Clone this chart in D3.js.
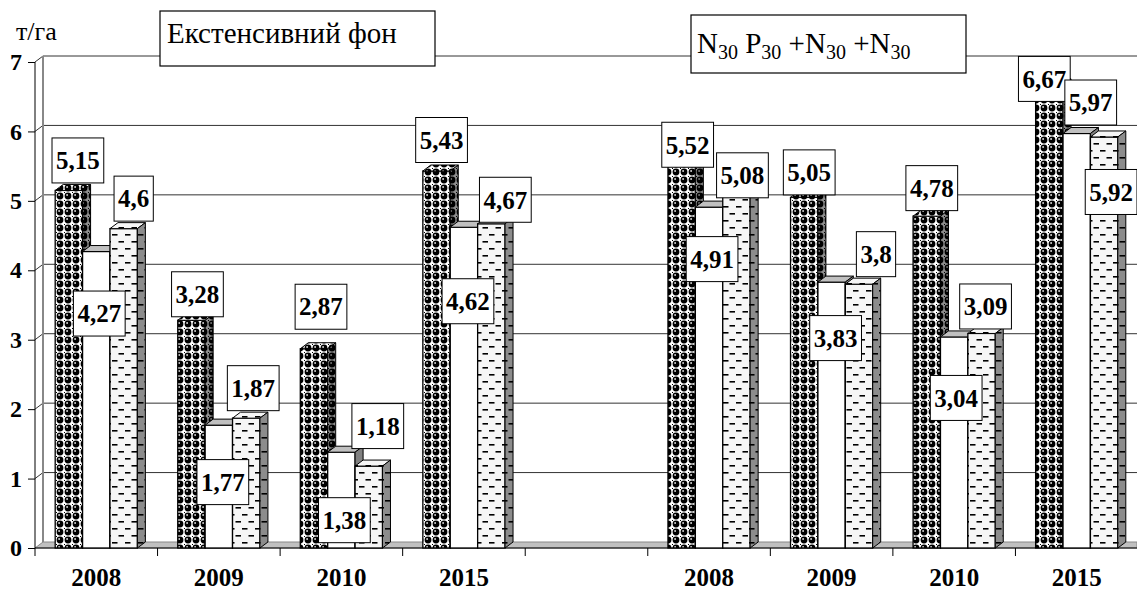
<!DOCTYPE html>
<html>
<head>
<meta charset="utf-8">
<script src="https://cdn.jsdelivr.net/npm/d3@7"></script>
<style>
  body { margin: 0; background: #fff; }
  svg, svg text { font-family: "Liberation Serif", Tinos, "Times New Roman", Times, "DejaVu Serif", serif; }
</style>
</head>
<body>
<svg id="chart"></svg>
<script>
  /* data --------------------------------------------------------------- */
  // the empty slot splits the two fertiliser backgrounds
  const categories = ["2008", "2009", "2010", "2015", "", "2008", "2009", "2010", "2015"];
  const series1 = [5.15, 3.28, 2.87, 5.43, null, 5.52, 5.05, 4.78, 6.67];
  const series2 = [4.27, 1.77, 1.38, 4.62, null, 4.91, 3.83, 3.04, 5.97];
  const series3 = [4.6, 1.87, 1.18, 4.67, null, 5.08, 3.8, 3.09, 5.92];
  const yTicks = [0, 1, 2, 3, 4, 5, 6, 7];
  const yUnit = "т/га";
  const groupTitle1 = "Екстенсивний фон";

  // where Excel put each value box, relative to the top of its bar (px)
  const labelNudge = [
    [[9, -30], [3, 62], [10, -30]],
    [[6, -26], [4, 57], [7, -30]],
    [[7, -42], [3, 68], [9, -40]],
    [[5, -31], [4, 74], [14, -24]],
    [null, null, null],
    [[6, -20], [3, 52], [6, -20]],
    [[5, -25], [4, 56], [17, -30]],
    [[5, -28], [2, 61], [4, -27]],
    [[-5, -6], [14, -31], [7, 55]]
  ];

  /* config ------------------------------------------------------------- */
  const width = 1137, height = 592;
  const plot = { left: 35, right: 1138, top: 62, bottom: 548 };
  const depth = { dx: 8, dy: 6 };
  const serif = "Liberation Serif, Tinos, Times New Roman, DejaVu Serif, serif";

  const svg = d3.select("#chart").attr("width", width).attr("height", height)
      .attr("font-family", serif);
  const defs = svg.append("defs");

  // sphere pattern for the first series
  let p = defs.append("pattern").attr("id", "balls")
      .attr("patternUnits", "userSpaceOnUse").attr("width", 8).attr("height", 8);
  p.append("rect").attr("width", 8).attr("height", 8).attr("fill", "#fff");
  p.append("circle").attr("cx", 4).attr("cy", 4).attr("r", 3.4).attr("fill", "#000");
  p.append("circle").attr("cx", 3.1).attr("cy", 3).attr("r", 0.9).attr("fill", "#e8e8e8");
  p.append("rect").attr("x", 0).attr("y", 0).attr("width", 1).attr("height", 1).attr("fill", "#000");

  // dashes for the third series
  function dashPattern(id, bg) {
    let d = defs.append("pattern").attr("id", id)
        .attr("patternUnits", "userSpaceOnUse").attr("width", 13).attr("height", 14);
    d.append("rect").attr("width", 13).attr("height", 14).attr("fill", bg);
    d.append("rect").attr("x", 1.5).attr("y", 3).attr("width", 5.5).attr("height", 1.6).attr("fill", "#000");
    d.append("rect").attr("x", 8).attr("y", 10).attr("width", 5).attr("height", 1.6).attr("fill", "#000");
    d.append("rect").attr("x", 0).attr("y", 10).attr("width", 0.5).attr("height", 1.6).attr("fill", "#000");
  }
  dashPattern("dashes", "#f6f6f6");
  dashPattern("dashesDark", "#8c8c8c");

  /* scales ------------------------------------------------------------- */
  const x0 = d3.scaleBand().domain(d3.range(categories.length)).range([plot.left, plot.right]);
  const x1 = d3.scaleBand().domain([0, 1, 2]).range([0, x0.bandwidth()]).paddingOuter(0.737);
  const y = d3.scaleLinear().domain([0, 7]).range([plot.bottom, plot.top]);

  /* back wall, gridlines, floor ---------------------------------------- */
  const grid = svg.append("g");
  yTicks.forEach(t => {
    if (t === 0) return;
    grid.append("path")
        .attr("d", `M${plot.left},${y(t)} L${plot.left + depth.dx},${y(t) - depth.dy} H${width}`)
        .attr("fill", "none").attr("stroke", "#333").attr("stroke-width", 1);
  });
  grid.append("line")
      .attr("x1", plot.left + depth.dx).attr("x2", plot.left + depth.dx)
      .attr("y1", y(7) - depth.dy).attr("y2", y(0) - depth.dy)
      .attr("stroke", "#888").attr("stroke-width", 2);

  grid.append("path")
      .attr("d", `M${plot.left},${y(0)} L${plot.left + depth.dx},${y(0) - depth.dy} H${width} V${y(0)} Z`)
      .attr("fill", "#c0c0c0").attr("stroke", "#888").attr("stroke-width", 1);

  /* axes ---------------------------------------------------------------- */
  const axisY = d3.axisLeft(y).tickValues(yTicks).tickSize(7).tickPadding(6).tickFormat(d3.format("d"));
  const gy = svg.append("g").attr("transform", `translate(${plot.left},0)`).call(axisY)
      .attr("font-family", serif);
  gy.select(".domain").attr("stroke", "#000").attr("d", `M0,${y(7)} V${y(0)}`);
  gy.selectAll("text").attr("font-weight", "bold").attr("font-size", 24).attr("fill", "#000");

  svg.append("line")
      .attr("x1", plot.left).attr("x2", width).attr("y1", y(0)).attr("y2", y(0))
      .attr("stroke", "#000").attr("stroke-width", 1.2);

  // boundary ticks between categories
  d3.range(categories.length + 1).forEach(i => {
    let xx = plot.left + i * x0.step();
    svg.append("line").attr("x1", xx).attr("x2", xx).attr("y1", y(0)).attr("y2", y(0) + 8)
        .attr("stroke", "#000");
  });

  const axisX = d3.axisBottom(x0).tickSize(0).tickPadding(20).tickFormat(i => categories[i]);
  const gx = svg.append("g").attr("transform", `translate(0,${y(0)})`).call(axisX)
      .attr("font-family", serif);
  gx.select(".domain").remove();
  gx.selectAll("text").attr("font-weight", "bold").attr("font-size", 25).attr("fill", "#000");

  /* bars ----------------------------------------------------------------- */
  const styles = [
    { front: "url(#balls)", top: "url(#balls)", side: "url(#balls)", shade: 0.45 },
    { front: "#fff", top: "#c0c0c0", side: "#808080", shade: 0 },
    { front: "url(#dashes)", top: "url(#dashes)", side: "url(#dashesDark)", shade: 0 }
  ];
  const allSeries = [series1, series2, series3];
  const bars = svg.append("g");
  const w = x1.bandwidth();

  categories.forEach((c, ci) => {
    allSeries.forEach((s, si) => {
      let v = s[ci];
      if (v == null) return;
      let x = x0(ci) + x1(si), t = y(v), b = y(0);
      let st = styles[si];
      let g = bars.append("g");
      g.append("rect").attr("x", x).attr("y", t).attr("width", w).attr("height", b - t)
          .attr("fill", st.front).attr("stroke", "#000").attr("stroke-width", 1.3);
      let topPath = `M${x},${t} l${depth.dx},${-depth.dy} h${w} l${-depth.dx},${depth.dy} Z`;
      g.append("path").attr("d", topPath).attr("fill", st.top).attr("stroke", "#000").attr("stroke-width", 1);
      let sidePath = `M${x + w},${t} l${depth.dx},${-depth.dy} V${b - depth.dy} l${-depth.dx},${depth.dy} Z`;
      g.append("path").attr("d", sidePath).attr("fill", st.side).attr("stroke", "#000").attr("stroke-width", 1);
      if (st.shade) g.append("path").attr("d", sidePath).attr("fill", `rgba(0,0,0,${st.shade})`);
    });
  });

  /* value boxes ---------------------------------------------------------- */
  const labels = svg.append("g");
  categories.forEach((c, ci) => {
    allSeries.forEach((s, si) => {
      let v = s[ci];
      if (v == null) return;
      let [dx, dy] = labelNudge[ci][si];
      let cx = x0(ci) + x1(si) + w / 2 + dx, cy = y(v) + dy;
      let g = labels.append("g");
      let r = g.append("rect").attr("fill", "#fff").attr("stroke", "#000").attr("stroke-width", 1);
      let txt = g.append("text").attr("x", cx).attr("y", cy).attr("dy", "0.35em")
          .attr("text-anchor", "middle").attr("font-weight", "bold").attr("font-size", 25)
          .text(String(v).replace(".", ","));
      let tw = txt.node().getComputedTextLength();
      r.attr("x", cx - tw / 2 - 4).attr("y", cy - 22.5).attr("width", tw + 8).attr("height", 45);
    });
  });

  /* titles --------------------------------------------------------------- */
  svg.append("text").attr("x", 16).attr("y", 40).attr("font-size", 26).text(yUnit);

  svg.append("rect").attr("x", 160).attr("y", 11).attr("width", 275).attr("height", 55)
      .attr("fill", "#fff").attr("stroke", "#000").attr("stroke-width", 1.2);
  svg.append("text").attr("x", 167).attr("y", 43).attr("font-size", 29).text(groupTitle1);

  svg.append("rect").attr("x", 691).attr("y", 15).attr("width", 275).attr("height", 58)
      .attr("fill", "#fff").attr("stroke", "#000").attr("stroke-width", 1.2);
  const t2 = svg.append("text").attr("x", 697).attr("y", 53).attr("font-size", 29);
  [["N", false], ["30", true], [" P", false], ["30", true], [" +N", false], ["30", true], [" +N", false], ["30", true]]
    .forEach(([s, sub]) => {
      t2.append("tspan").attr("font-size", sub ? 20 : 29).attr("dy", sub ? 6 : -6)
          .text(s);
    });
  t2.select("tspan").attr("dy", 0);
</script>
</body>
</html>
